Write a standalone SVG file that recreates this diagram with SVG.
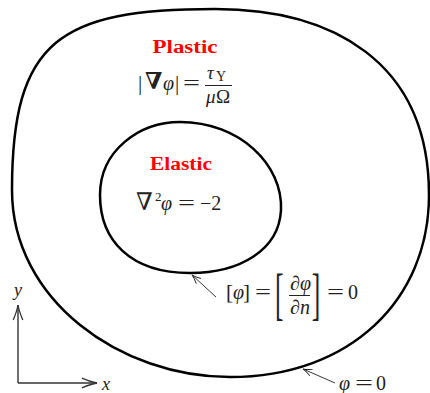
<svg xmlns="http://www.w3.org/2000/svg" width="430" height="393" viewBox="0 0 430 393">
<defs>
<style>
.region{fill:none;stroke:#000;stroke-width:2.5;stroke-linejoin:round}
.lbl{font-family:"Liberation Serif","DejaVu Serif",serif;font-weight:bold;fill:#ff0000}
.m{font-family:"Liberation Serif","DejaVu Serif",serif;fill:#222}
.i{font-style:italic}
.sym{font-family:"DejaVu Serif","Liberation Serif",serif;fill:#222}
.bar{stroke:#222;stroke-width:1}
.ax{stroke:#333;stroke-width:1.4;fill:none}
.lead{stroke:#222;stroke-width:0.9;fill:none}
</style>
<marker id="axhead" markerWidth="18" markerHeight="12" refX="16" refY="6" orient="auto" markerUnits="userSpaceOnUse">
<path d="M1,1.2 Q10,5 16,6 Q10,7 1,10.8" fill="none" stroke="#333" stroke-width="1.3"/>
</marker>
<marker id="lhead" markerWidth="12" markerHeight="10" refX="10" refY="5" orient="auto" markerUnits="userSpaceOnUse">
<path d="M1,1.5 Q6,4.2 10,5 Q6,5.8 1,8.5" fill="none" stroke="#222" stroke-width="0.9"/>
</marker>
</defs>

<g id="plastic-region" font-size="20">
<path class="region" d="M12,190 C12,40 60,9 215,9 C330,9 429,60 429,195 C429,300 350,377 230,377 C120,377 12,300 12,190 Z"/>
<text class="lbl" x="185" y="53" font-size="18" text-anchor="middle" textLength="65" lengthAdjust="spacingAndGlyphs">Plastic</text>
<g id="plastic-eq">
<text class="m" x="138" y="90" font-size="21">|</text>
<text class="sym" x="145" y="89" font-size="23" font-weight="bold">∇</text>
<text class="m i" x="163" y="90">φ</text>
<text class="m" x="175" y="90" font-size="21">|</text>
<text class="m" x="183" y="90" textLength="17" lengthAdjust="spacingAndGlyphs">=</text>
<line class="bar" x1="205" y1="85.5" x2="232" y2="85.5"/>
<text class="m i" x="207" y="79" font-size="19">τ</text>
<text class="m" x="216" y="81" font-size="14">Y</text>
<text class="m i" x="206" y="103" font-size="19">μ</text>
<text class="m" x="216" y="103" font-size="19">Ω</text>
</g>
</g>

<g id="elastic-region" font-size="20">
<path class="region" d="M100,195 C100,150 140,122 180,122 C240,122 283,165 281,210 C279,250 240,273 190,273 C130,273 100,240 100,195 Z"/>
<text class="lbl" x="181" y="170" font-size="18" text-anchor="middle" textLength="62" lengthAdjust="spacingAndGlyphs">Elastic</text>
<g id="elastic-eq">
<text class="sym" x="136" y="210" font-size="24">∇</text>
<text class="m" x="155" y="201" font-size="13">2</text>
<text class="m i" x="161" y="210">φ</text>
<text class="m" x="178" y="210" textLength="17" lengthAdjust="spacingAndGlyphs">=</text>
<text class="m" x="200" y="210">−2</text>
</g>
</g>

<g id="interface-label" font-size="20">
<text class="m" x="226" y="299" font-size="21">[</text>
<text class="m i" x="233" y="299">φ</text>
<text class="m" x="243" y="299" font-size="21">]</text>
<text class="m" x="255" y="299" textLength="16" lengthAdjust="spacingAndGlyphs">=</text>
<text class="m" transform="translate(275,313) scale(0.45,1)" font-size="57">[</text>
<text class="m i" x="290" y="290">∂φ</text>
<line class="bar" x1="289" y1="295.5" x2="310" y2="295.5"/>
<text class="m i" x="290" y="314">∂n</text>
<text class="m" transform="translate(311.7,313) scale(0.45,1)" font-size="57">]</text>
<text class="m" x="327" y="299" textLength="17" lengthAdjust="spacingAndGlyphs">=</text>
<text class="m" x="348" y="299">0</text>
</g>

<g id="boundary-label" font-size="20">
<text class="m i" x="339" y="390">φ</text>
<text class="m" x="355" y="390" textLength="18" lengthAdjust="spacingAndGlyphs">=</text>
<text class="m" x="376" y="390">0</text>
</g>

<g id="axes">
<line class="ax" x1="18" y1="383" x2="18" y2="305" marker-end="url(#axhead)"/>
<line class="ax" x1="18" y1="383" x2="97" y2="383" marker-end="url(#axhead)"/>
<text class="m i" x="14" y="296" font-size="18">y</text>
<text class="m i" x="102" y="390" font-size="18">x</text>
</g>

<g id="connectors">
<line class="lead" x1="216" y1="297" x2="192" y2="275" marker-end="url(#lhead)"/>
<line class="lead" x1="335" y1="383" x2="303" y2="369" marker-end="url(#lhead)"/>
</g>
</svg>
